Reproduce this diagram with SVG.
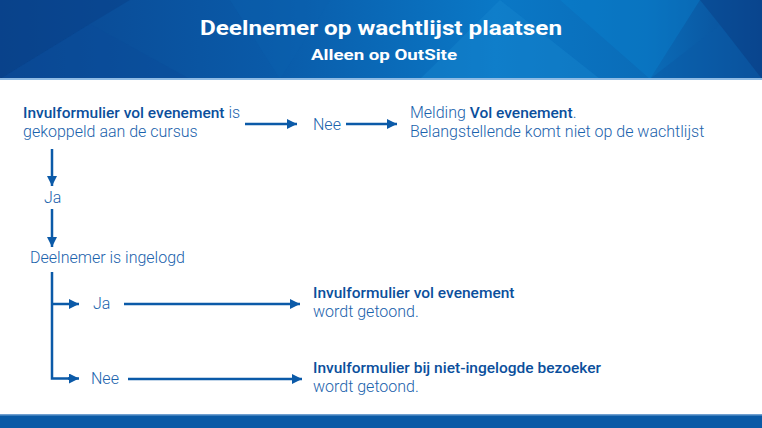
<svg xmlns="http://www.w3.org/2000/svg" width="762" height="428" viewBox="0 0 762 428">
<defs>
<linearGradient id="hdr" x1="0" y1="0" x2="1" y2="0">
<stop offset="0" stop-color="#0a4690"/>
<stop offset="0.35" stop-color="#0a5aa8"/>
<stop offset="0.65" stop-color="#0a78c6"/>
<stop offset="0.85" stop-color="#0a6cb8"/>
<stop offset="1" stop-color="#0a4a94"/>
</linearGradient>
<marker id="ah" viewBox="0 0 10 10" refX="10" refY="5" markerWidth="10" markerHeight="10" markerUnits="userSpaceOnUse" orient="auto">
<path d="M0,0 L10,5 L0,10 Z" fill="#0b5aa8"/>
</marker>
</defs>
<style>
.t{font-family:Roboto,"Liberation Sans",sans-serif;font-size:16px;fill:#1a62ac;font-weight:300}
.b{font-weight:500;font-size:15.5px;fill:#0b4f9c}
.c{stroke:#0b5aa8;stroke-width:2.5;fill:none}
.a{marker-end:url(#ah)}
.h{font-family:Roboto,"Liberation Sans",sans-serif;font-weight:700;fill:#ffffff;text-anchor:middle}
</style>
<rect width="762" height="428" fill="#ffffff"/>
<g id="header">
<rect x="0" y="0" width="762" height="79" fill="url(#hdr)"/>
<polygon points="0,0 130,0 90,24 0,79" fill="#083e84" opacity="0.45"/>
<polygon points="90,24 0,79 190,79" fill="#0a4c98" opacity="0.4"/>
<polygon points="230,0 330,0 280,79" fill="#0c62b0" opacity="0.35"/>
<polygon points="500,0 600,79 420,79" fill="#1a8ad2" opacity="0.35"/>
<polygon points="560,0 700,0 650,79" fill="#0a84d0" opacity="0.35"/>
<polygon points="700,0 762,0 762,79 720,25" fill="#083f88" opacity="0.5"/>
<polygon points="720,25 762,79 650,79" fill="#0a5aa6" opacity="0.5"/>
<rect x="0" y="78" width="762" height="2" fill="#8fbbe4"/>
<text class="h" x="381" y="35" font-size="21" textLength="362" lengthAdjust="spacingAndGlyphs">Deelnemer op wachtlijst plaatsen</text>
<text class="h" x="384" y="60" font-size="15.5" textLength="146" lengthAdjust="spacingAndGlyphs">Alleen op OutSite</text>
</g>
<g id="footer">
<rect x="0" y="414" width="762" height="14" fill="#0a5aa6"/>
<rect x="0" y="414" width="762" height="1.5" fill="#6f9fd0"/>
</g>
<g id="connectors">
<line class="c a" x1="245" y1="124" x2="297" y2="124"/>
<line class="c a" x1="346" y1="124" x2="397" y2="124"/>
<line class="c a" x1="52" y1="149" x2="52" y2="186"/>
<line class="c a" x1="52" y1="209" x2="52" y2="247"/>
<polyline class="c" points="52,272 52,378.5 70,378.5"/>
<line class="c a" x1="52" y1="304" x2="79" y2="304"/>
<line class="c a" x1="68" y1="378.5" x2="79" y2="378.5"/>
<line class="c a" x1="124" y1="304" x2="300" y2="304"/>
<line class="c a" x1="128" y1="379" x2="302" y2="379"/>
</g>
<g id="node-form-linked">
<text class="t" x="23" y="118"><tspan class="b">Invulformulier vol evenement</tspan> is</text>
<text class="t" x="23" y="137">gekoppeld aan de cursus</text>
</g>
<g id="node-nee1"><text class="t" x="313" y="130">Nee</text></g>
<g id="node-melding">
<text class="t" x="410" y="118">Melding <tspan class="b">Vol evenement</tspan>.</text>
<text class="t" x="410" y="137">Belangstellende komt niet op de wachtlijst</text>
</g>
<g id="node-ja1"><text class="t" x="44" y="203">Ja</text></g>
<g id="node-ingelogd"><text class="t" x="30" y="263">Deelnemer is ingelogd</text></g>
<g id="node-ja2"><text class="t" x="93" y="309">Ja</text></g>
<g id="node-nee2"><text class="t" x="91" y="384">Nee</text></g>
<g id="node-form-shown">
<text class="t" x="313" y="298"><tspan class="b">Invulformulier vol evenement</tspan></text>
<text class="t" x="313" y="317">wordt getoond.</text>
</g>
<g id="node-form-guest">
<text class="t" x="313" y="373"><tspan class="b">Invulformulier bij niet-ingelogde bezoeker</tspan></text>
<text class="t" x="313" y="392">wordt getoond.</text>
</g>
</svg>
